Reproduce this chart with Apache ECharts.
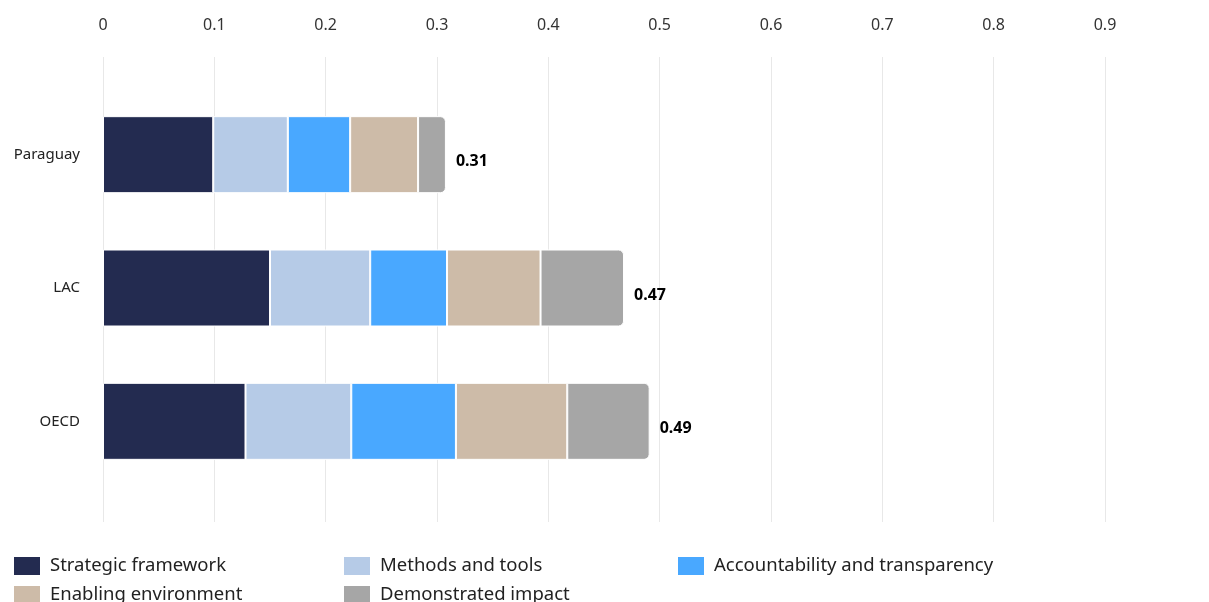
<!DOCTYPE html>
<html>
<head>
<meta charset="utf-8">
<script src="https://cdn.jsdelivr.net/npm/echarts@6/dist/echarts.min.js"></script>
<style>html,body{margin:0;padding:0;background:#fff;}#c{width:1209px;height:602px;}</style>
</head>
<body>
<div id="c"></div>
<script>
const categories = ['Paraguay', 'LAC', 'OECD'];
const seriesNames = ['Strategic framework', 'Methods and tools', 'Accountability and transparency', 'Enabling environment', 'Demonstrated impact'];
const strategic = [0.099, 0.150, 0.128];
const methods = [0.067, 0.090, 0.095];
const accountability = [0.056, 0.069, 0.094];
const enabling = [0.061, 0.084, 0.100];
const demonstrated = [0.025, 0.075, 0.074];
const totals = [0.31, 0.47, 0.49];
const xTicks = [0, 0.1, 0.2, 0.3, 0.4, 0.5, 0.6, 0.7, 0.8, 0.9];
const colors = ['#232b50', '#b6cbe7', '#49a8ff', '#cdbba8', '#a6a6a6'];

const FONT = 'Noto Sans';
const values = [strategic, methods, accountability, enabling, demonstrated];

const series = values.map((d, i) => ({
  name: seriesNames[i],
  type: 'bar',
  stack: 'total',
  xAxisIndex: 0,
  yAxisIndex: 0,
  barWidth: 77,
  data: d,
  itemStyle: {
    color: colors[i],
    borderColor: '#ffffff',
    borderWidth: 1,
    borderRadius: i === 4 ? [0, 5, 5, 0] : 0
  },
  label: i === 4 ? {
    show: true,
    position: 'right',
    distance: 10,
    offset: [0, 7],
    formatter: p => totals[p.dataIndex].toFixed(2),
    fontFamily: FONT,
    fontWeight: 'bold',
    fontSize: 16,
    color: '#000'
  } : { show: false }
}));

// legend positions: [left, top] for each series
const legendPos = [[12, 555], [342, 555], [676, 555], [12, 584], [342, 584]];
const legends = seriesNames.map((n, i) => ({
  left: legendPos[i][0],
  top: legendPos[i][1],
  padding: 0,
  orient: 'horizontal',
  itemWidth: 28,
  itemHeight: 20,
  icon: 'rect',
  selectedMode: false,
  data: [n],
  textStyle: { fontFamily: FONT, fontSize: 18.5, color: '#222', padding: [0, 0, 0, 4] }
}));

const chart = echarts.init(document.getElementById('c'));
chart.setOption({
  animation: false,
  color: colors,
  grid: [
    { left: 103, right: 104, top: 88, height: 400 },
    { left: 103, right: 104, top: 57, bottom: 80 }
  ],
  xAxis: [
    { gridIndex: 0, type: 'value', min: 0, max: 0.9, interval: 0.1, show: false },
    {
      gridIndex: 1, type: 'value', position: 'top', min: 0, max: 0.9, interval: 0.1,
      axisLine: { show: false }, axisTick: { show: false },
      axisLabel: { fontFamily: FONT, fontSize: 16, color: '#333', margin: 24,
        formatter: v => String(Math.round(v * 10) / 10) },
      splitLine: { show: true, lineStyle: { color: '#e8e8e8', width: 1 } }
    }
  ],
  yAxis: [
    {
      gridIndex: 0, type: 'category', data: categories, inverse: true,
      axisLine: { show: false }, axisTick: { show: false },
      axisLabel: { fontFamily: FONT, fontSize: 15, color: '#222', margin: 23 }
    },
    { gridIndex: 1, type: 'value', show: false, min: 0, max: 1 }
  ],
  legend: legends,
  series: series
});
</script>
</body>
</html>
